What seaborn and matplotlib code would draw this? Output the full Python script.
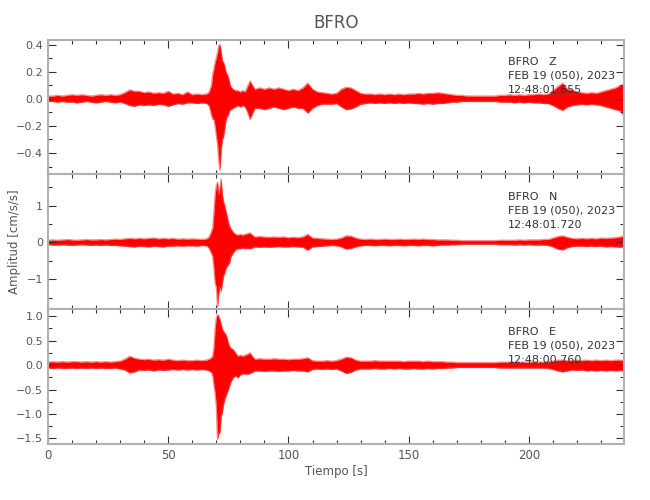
import matplotlib
matplotlib.use("Agg")
import numpy as np
import matplotlib.pyplot as plt
import seaborn as sns
from matplotlib.ticker import MultipleLocator, FuncFormatter

# seconds since start of record
time_s = [
    0, 2, 4, 6, 8, 10, 12, 14, 16, 18,
    20, 22, 24, 26, 28, 30, 32, 34, 36, 38,
    40, 42, 44, 46, 48, 50, 52, 54, 56, 58,
    60, 62, 64, 66, 67, 68, 68.5, 69, 69.5, 70,
    70.5, 71, 71.5, 72, 72.5, 73, 73.5, 74, 74.5, 75,
    75.5, 76, 77, 78, 79, 80, 81, 82, 83, 84,
    85, 86, 88, 90, 92, 94, 96, 98, 100, 102,
    104, 106, 108, 110, 112, 114, 116, 118, 120, 122,
    124, 126, 128, 130, 132, 134, 136, 138, 140, 142,
    144, 146, 148, 150, 152, 154, 156, 158, 160, 162,
    164, 166, 168, 170, 172, 174, 176, 178, 180, 182,
    184, 186, 188, 190, 192, 194, 196, 198, 200, 202,
    204, 206, 208, 210, 212, 214, 216, 218, 220, 222,
    224, 226, 228, 230, 232, 234, 236, 238, 239.5,
]

# trace envelopes (cm/s/s)
z_upper = [
    .020, .020, .025, .020, .025, .030, .025, .030, .025, .020,
    .025, .030, .025, .030, .025, .030, .045, .065, .055, .055,
    .045, .050, .040, .045, .040, .055, .035, .040, .030, .050,
    .030, .035, .030, .035, .050, .100, .180, .220, .270, .300,
    .340, .390, .400, .350, .280, .270, .240, .200, .180, .160,
    .120, .090, .070, .060, .060, .050, .060, .050, .090, .130,
    .100, .070, .080, .070, .080, .070, .080, .070, .060, .070,
    .060, .080, .115, .070, .050, .045, .040, .035, .040, .070,
    .085, .080, .060, .040, .035, .035, .030, .035, .030, .035,
    .030, .035, .030, .035, .035, .040, .035, .040, .040, .045,
    .040, .035, .030, .025, .025, .020, .020, .020, .020, .020,
    .020, .020, .025, .025, .030, .025, .030, .025, .030, .030,
    .035, .030, .035, .060, .090, .115, .070, .065, .050, .045,
    .040, .045, .040, .050, .060, .070, .080, .100, .100,
]
z_lower = [
    -.020, -.020, -.025, -.020, -.025, -.025, -.030, -.025, -.020, -.025,
    -.030, -.025, -.020, -.025, -.030, -.025, -.035, -.050, -.055, -.045,
    -.050, -.045, -.050, -.040, -.045, -.055, -.045, -.035, -.040, -.030,
    -.030, -.035, -.030, -.035, -.050, -.120, -.150, -.150, -.200, -.270,
    -.330, -.450, -.525, -.380, -.300, -.280, -.220, -.160, -.130, -.120,
    -.090, -.080, -.070, -.060, -.050, -.060, -.050, -.060, -.100, -.150,
    -.110, -.070, -.070, -.080, -.070, -.060, -.070, -.080, -.070, -.060,
    -.070, -.070, -.105, -.070, -.050, -.040, -.040, -.040, -.035, -.060,
    -.080, -.075, -.060, -.040, -.035, -.030, -.035, -.030, -.035, -.030,
    -.035, -.030, -.035, -.030, -.035, -.035, -.040, -.035, -.040, -.035,
    -.035, -.030, -.025, -.025, -.020, -.020, -.020, -.020, -.020, -.020,
    -.020, -.020, -.025, -.025, -.025, -.030, -.025, -.030, -.025, -.030,
    -.030, -.035, -.035, -.050, -.070, -.085, -.060, -.050, -.045, -.040,
    -.045, -.040, -.045, -.050, -.060, -.070, -.080, -.090, -.125,
]

n_upper = [
    .06, .07, .06, .07, .08, .07, .06, .07, .08, .07,
    .07, .08, .07, .08, .09, .08, .10, .11, .10, .11,
    .10, .11, .12, .10, .11, .10, .11, .09, .10, .09,
    .10, .09, .08, .10, .15, .30, .40, .80, 1.30, 1.55,
    1.63, 1.30, 1.50, 1.72, 1.30, 1.10, 1.00, .85, .72, .55,
    .45, .38, .28, .22, .20, .22, .20, .22, .24, .26,
    .20, .15, .16, .15, .14, .15, .14, .15, .13, .14,
    .13, .15, .22, .12, .11, .10, .09, .08, .09, .12,
    .18, .17, .12, .09, .08, .09, .08, .08, .09, .08,
    .08, .09, .08, .08, .09, .08, .09, .08, .08, .07,
    .07, .07, .06, .06, .05, .05, .05, .05, .05, .05,
    .05, .05, .06, .06, .06, .06, .07, .06, .07, .07,
    .07, .08, .08, .12, .16, .18, .14, .11, .10, .11,
    .10, .11, .10, .12, .11, .12, .13, .15, .18,
]
n_lower = [
    -.06, -.07, -.07, -.06, -.07, -.08, -.07, -.06, -.07, -.08,
    -.07, -.08, -.07, -.08, -.08, -.09, -.10, -.11, -.12, -.10,
    -.11, -.12, -.10, -.11, -.12, -.10, -.10, -.09, -.10, -.09,
    -.09, -.10, -.08, -.09, -.15, -.30, -.37, -.70, -1.10, -1.20,
    -1.74, -1.40, -1.20, -1.33, -1.10, -0.90, -0.83, -0.70, -0.65, -0.60,
    -.55, -.40, -.28, -.20, -.17, -.17, -.15, -.17, -.16, -.17,
    -.15, -.12, -.13, -.12, -.13, -.12, -.11, -.12, -.12, -.11,
    -.12, -.13, -.21, -.12, -.11, -.10, -.09, -.08, -.09, -.12,
    -.18, -.16, -.12, -.09, -.08, -.08, -.09, -.08, -.08, -.09,
    -.08, -.08, -.09, -.08, -.08, -.09, -.08, -.08, -.09, -.08,
    -.07, -.07, -.06, -.06, -.05, -.05, -.05, -.05, -.05, -.05,
    -.05, -.05, -.06, -.06, -.06, -.07, -.06, -.07, -.06, -.07,
    -.07, -.07, -.08, -.12, -.18, -.20, -.14, -.11, -.10, -.10,
    -.11, -.10, -.11, -.10, -.12, -.11, -.12, -.13, -.12,
]

e_upper = [
    .06, .07, .06, .07, .06, .07, .07, .06, .07, .06,
    .07, .06, .07, .06, .07, .08, .12, .18, .14, .12,
    .11, .12, .10, .11, .10, .12, .10, .09, .10, .09,
    .09, .10, .09, .10, .12, .15, .18, .35, .75, .97,
    1.04, 1.00, 0.93, 0.85, 0.73, 0.70, 0.65, 0.63, 0.55, 0.45,
    .39, .35, .32, .25, .18, .20, .18, .20, .22, .25,
    .18, .12, .13, .12, .12, .13, .12, .12, .11, .12,
    .12, .13, .15, .09, .08, .08, .09, .08, .09, .12,
    .16, .15, .10, .08, .08, .08, .09, .08, .08, .08,
    .08, .08, .07, .08, .08, .08, .07, .08, .07, .07,
    .07, .06, .06, .05, .05, .05, .05, .05, .05, .05,
    .05, .05, .06, .06, .06, .06, .06, .06, .06, .06,
    .06, .06, .07, .08, .10, .10, .09, .09, .10, .09,
    .10, .09, .10, .09, .10, .09, .10, .10, .09,
]
e_lower = [
    -.06, -.07, -.06, -.07, -.07, -.06, -.07, -.06, -.07, -.06,
    -.07, -.06, -.07, -.07, -.06, -.08, -.10, -.16, -.14, -.10,
    -.11, -.10, -.12, -.10, -.11, -.10, -.09, -.10, -.09, -.10,
    -.09, -.10, -.09, -.10, -.12, -.15, -.22, -.40, -.57, -.84,
    -1.52, -1.40, -1.38, -1.04, -0.97, -0.80, -0.70, -0.63, -0.57, -0.50,
    -.43, -.35, -.26, -.22, -.26, -.20, -.18, -.18, -.19, -.17,
    -.15, -.12, -.12, -.13, -.12, -.12, -.13, -.12, -.12, -.11,
    -.12, -.12, -.14, -.09, -.08, -.09, -.08, -.09, -.08, -.12,
    -.17, -.15, -.10, -.08, -.08, -.08, -.07, -.08, -.08, -.07,
    -.08, -.07, -.08, -.08, -.07, -.08, -.08, -.07, -.08, -.07,
    -.07, -.06, -.06, -.05, -.05, -.05, -.05, -.05, -.05, -.05,
    -.05, -.05, -.06, -.06, -.06, -.06, -.06, -.06, -.06, -.06,
    -.06, -.06, -.07, -.09, -.12, -.14, -.12, -.10, -.11, -.10,
    -.12, -.11, -.12, -.11, -.12, -.11, -.12, -.11, -.12,
]

components = ["Z", "N", "E"]
start_times = ["12:48:01.655", "12:48:01.720", "12:48:00.760"]
date_label = "FEB 19 (050), 2023"
station = "BFRO"

sns.set_style("white")
plt.rcParams["font.family"] = ["DejaVu Sans"]

panels = [
    (z_upper, z_lower, (-0.557, 0.437), 0.2, 0.1, "%.1f"),
    (n_upper, n_lower, (-1.81, 1.85), 1.0, 0.5, "%d"),
    (e_upper, e_lower, (-1.616, 1.145), 0.5, 0.25, "%.1f"),
]

fig, axes = plt.subplots(3, 1, figsize=(6.5, 5), dpi=100, sharex=True)
fig.subplots_adjust(left=0.0738, right=0.96, top=0.921, bottom=0.112, hspace=0)

spine_col = "#b0b0b0"
tick_col = "#333333"
text_col = "#555555"

for ax, (upper, lower, ylim, major, minor, fmt), comp, t0 in zip(
        axes, panels, components, start_times):

    ax.fill_between(time_s, lower, upper, color="#ff0000", lw=0, zorder=2)
    sns.lineplot(x=time_s, y=upper, ax=ax, color="#ff4040", lw=1.0,
                 alpha=0.6, zorder=2)
    sns.lineplot(x=time_s, y=lower, ax=ax, color="#ff4040", lw=1.0,
                 alpha=0.6, zorder=2)

    ax.set_xlim(0, 239.5)
    ax.set_ylim(*ylim)
    ax.set_axisbelow(False)

    ax.xaxis.set_major_locator(MultipleLocator(50))
    ax.xaxis.set_minor_locator(MultipleLocator(10))
    ax.yaxis.set_major_locator(MultipleLocator(major))
    ax.yaxis.set_minor_locator(MultipleLocator(minor))
    ax.yaxis.set_major_formatter(
        FuncFormatter(lambda v, p, f=fmt: (f % v).replace("-", "\u2212")))

    ax.tick_params(which="both", direction="in", top=True, right=True,
                   bottom=True, left=True,
                   color=tick_col, labelcolor=text_col, labelsize=8)
    ax.tick_params(which="major", length=6, width=0.8)
    ax.tick_params(which="minor", length=3, width=0.8)

    for sp in ax.spines.values():
        sp.set_color(spine_col)
        sp.set_linewidth(1.5)
        sp.set_zorder(4)

    ax.set_xlabel("")
    ax.set_ylabel("")

    ax.text(0.799, 0.834, f"{station}   {comp}", transform=ax.transAxes,
            va="center", ha="left", fontsize=8, color="#333333", zorder=3)
    ax.text(0.799, 0.730, date_label, transform=ax.transAxes,
            va="center", ha="left", fontsize=8, color="#333333", zorder=3)
    ax.text(0.799, 0.626, t0, transform=ax.transAxes,
            va="center", ha="left", fontsize=8, color="#333333", zorder=3)

axes[-1].tick_params(axis="x", labelsize=8.5)

fig.text(0.517, 0.954, station, ha="center", va="center",
         fontsize=12, color=text_col)
fig.text(0.517, 0.057, "Tiempo [s]", ha="center", va="center",
         fontsize=8.5, color=text_col)
fig.text(0.023, 0.516, "Amplitud [cm/s/s]", ha="center", va="center",
         rotation=90, fontsize=8.5, color=text_col)

fig.savefig("out.png", dpi=100)
plt.close(fig)
